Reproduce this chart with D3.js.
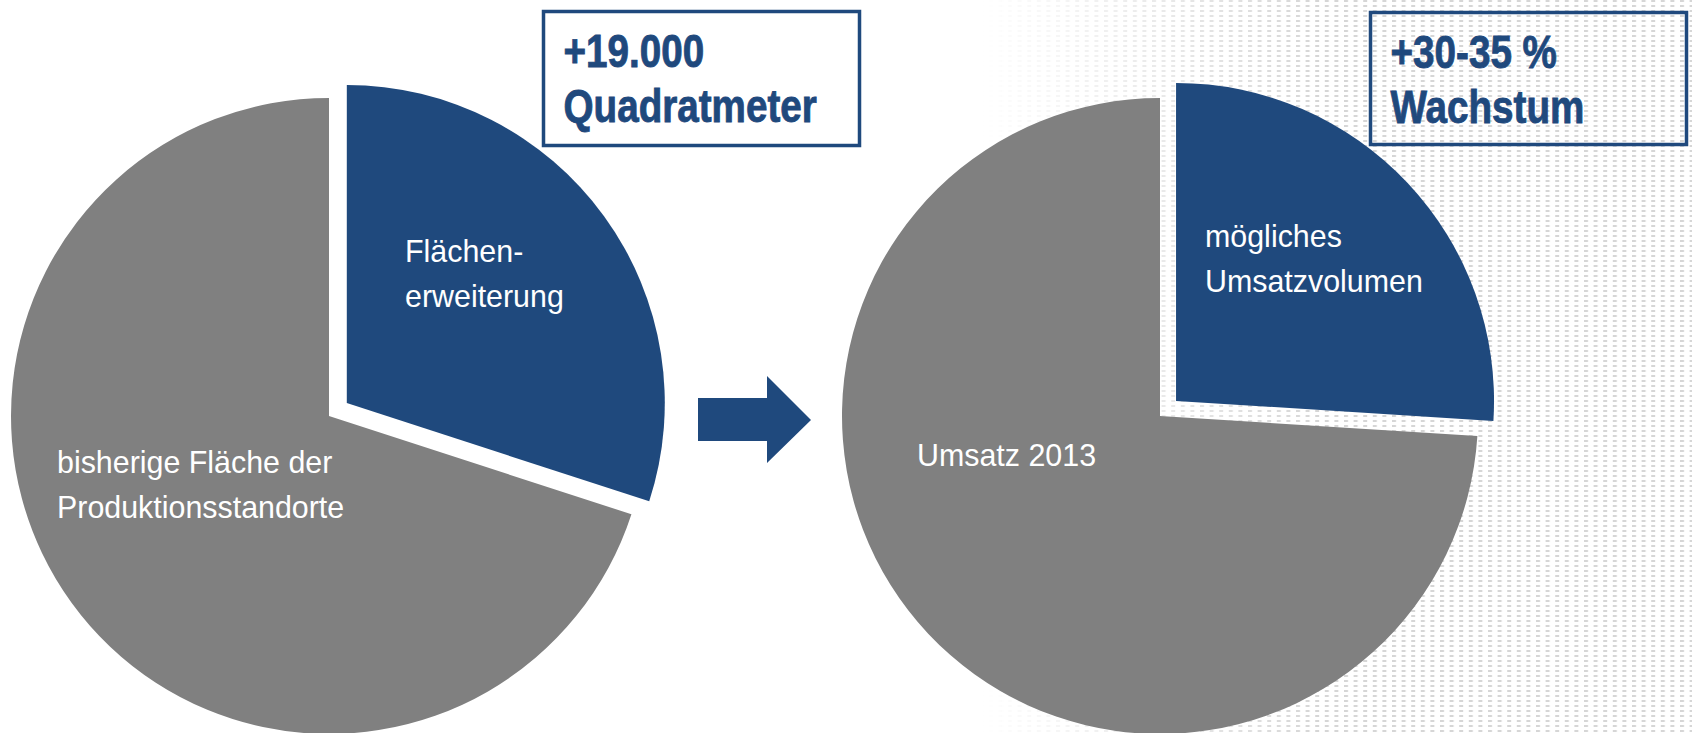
<!DOCTYPE html>
<html>
<head>
<meta charset="utf-8">
<script src="https://cdn.jsdelivr.net/npm/d3@7"></script>
<style>
  html, body { margin: 0; padding: 0; background: #fff; }
  svg { display: block; }
</style>
</head>
<body>
<script>
// values
const leftCategories = ['Flächenerweiterung', 'bisherige Fläche der Produktionsstandorte'],
      leftValues = [30, 70],
      leftLabels = [['Flächen-', 'erweiterung'], ['bisherige Fläche der', 'Produktionsstandorte']];

const rightCategories = ['mögliches Umsatzvolumen', 'Umsatz 2013'],
      rightValues = [26, 74],
      rightLabels = [['mögliches', 'Umsatzvolumen'], ['Umsatz 2013']];

const leftBoxText = ['+19.000', 'Quadratmeter'],
      rightBoxText = ['+30-35 %', 'Wachstum'];

const width = 1692,
      height = 733,
      radius = 318,
      explode = 22,
      blue = '#1F497D',
      gray = '#808080';

const colorScale = d3.scaleOrdinal().range([blue, gray]);

const svg = d3.select('body')
              .append('svg')
              .attr('width', width)
              .attr('height', height);

// faint dotted background on the right side
const defs = svg.append('defs');

defs.append('pattern')
    .attr('id', 'dots')
    .attr('patternUnits', 'userSpaceOnUse')
    .attr('width', 9.6)
    .attr('height', 5)
    .append('rect')
    .attr('width', 4)
    .attr('height', 2)
    .attr('fill', '#d6d6d6');

const grad = defs.append('linearGradient')
                 .attr('id', 'fade')
                 .attr('gradientUnits', 'userSpaceOnUse')
                 .attr('x1', 980).attr('x2', 1320)
                 .attr('y1', 0).attr('y2', 0);
grad.append('stop').attr('offset', 0).attr('stop-color', '#fff').attr('stop-opacity', 0);
grad.append('stop').attr('offset', 1).attr('stop-color', '#fff').attr('stop-opacity', 1);

defs.append('mask')
    .attr('id', 'fadeMask')
    .append('rect')
    .attr('x', 0).attr('y', 0)
    .attr('width', width).attr('height', height)
    .attr('fill', 'url(#fade)');

svg.append('rect')
   .attr('x', 900).attr('y', 0)
   .attr('width', width - 900).attr('height', height)
   .attr('fill', 'url(#dots)')
   .attr('mask', 'url(#fadeMask)');

const pie = d3.pie().sort(null).value(d => d),
      arc = d3.arc().innerRadius(0).outerRadius(radius);

function drawPie(values, categories, labels, cx, cy, labelPos) {
  const g = svg.append('g')
               .attr('transform', 'translate(' + cx + ',' + cy + ')');

  const slices = g.selectAll('g.slice')
                  .data(pie(values))
                  .enter()
                  .append('g')
                  .attr('class', 'slice')
                  .attr('transform', function(d, i) {
                    if (i !== 0) return null;
                    const mid = (d.startAngle + d.endAngle) / 2;
                    return 'translate(' + (Math.sin(mid) * explode) + ',' + (-Math.cos(mid) * explode) + ')';
                  });

  slices.append('path')
        .attr('d', arc)
        .attr('fill', (d, i) => colorScale(i));

  labels.forEach(function(lines, i) {
    const t = g.append('g')
               .attr('transform', 'translate(' + labelPos[i][0] + ',' + labelPos[i][1] + ') scale(0.95,1)')
               .append('text')
               .attr('fill', '#fff')
               .style('font-family', '"Liberation Sans", Arial, sans-serif')
               .style('font-size', '32px');
    t.selectAll('tspan')
     .data(lines)
     .enter()
     .append('tspan')
     .attr('x', 0)
     .attr('y', (d, j) => j * 45)
     .text(d => d);
  });
}

drawPie(leftValues, leftCategories, leftLabels, 329, 416, [[76, -154], [-272, 57]]);
drawPie(rightValues, rightCategories, rightLabels, 1160, 416, [[45, -169], [-243, 50]]);

// arrow between the pies
svg.append('path')
   .attr('d', 'M698,398 L767,398 L767,376 L811,420 L767,463 L767,441 L698,441 Z')
   .attr('fill', blue);

// boxed headline texts
function drawBox(x, y, w, h, lines) {
  svg.append('rect')
     .attr('x', x).attr('y', y)
     .attr('width', w).attr('height', h)
     .attr('fill', 'none')
     .attr('stroke', blue)
     .attr('stroke-width', 3.5);

  const t = svg.append('g')
               .attr('transform', 'translate(' + (x + 20) + ',' + (y + 55) + ') scale(0.84,1)')
               .append('text')
               .attr('fill', blue)
               .attr('stroke', blue)
               .attr('stroke-width', 0.9)
               .style('font-family', '"Liberation Sans", Arial, sans-serif')
               .style('font-weight', 'bold')
               .style('font-size', '46px');
  t.selectAll('tspan')
   .data(lines)
   .enter()
   .append('tspan')
   .attr('x', 0)
   .attr('y', (d, i) => i * 56)
   .text(d => d);
}

drawBox(543.5, 11.5, 316, 134, leftBoxText);
drawBox(1370.5, 12.5, 316, 132, rightBoxText);
</script>
</body>
</html>
